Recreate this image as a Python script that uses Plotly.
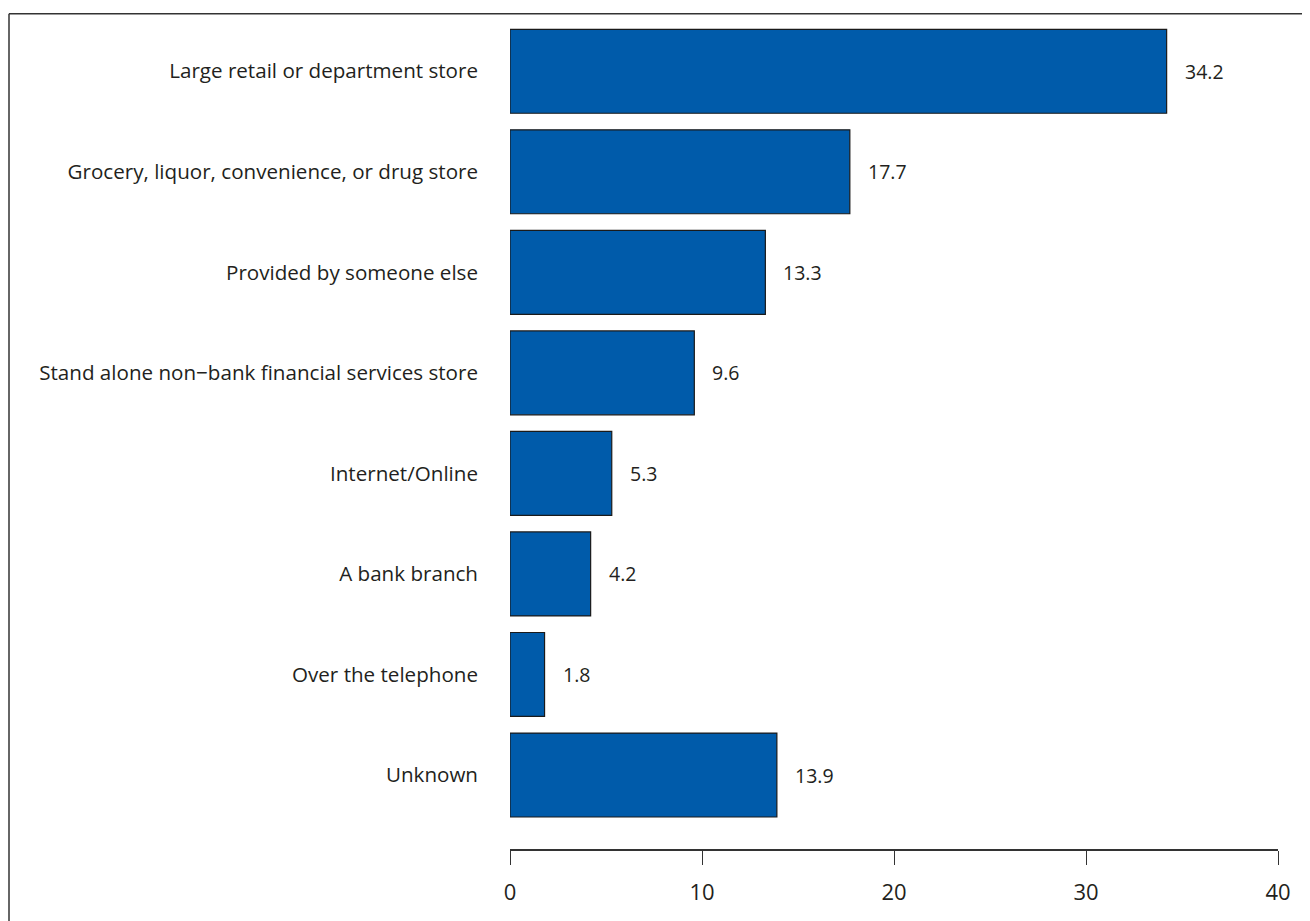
import plotly.graph_objects as go

categories = [
    "Large retail or department store",
    "Grocery, liquor, convenience, or drug store",
    "Provided by someone else",
    "Stand alone non\u2212bank financial services store",
    "Internet/Online",
    "A bank branch",
    "Over the telephone",
    "Unknown",
]
values = [34.2, 17.7, 13.3, 9.6, 5.3, 4.2, 1.8, 13.9]
value_labels = ["34.2", "17.7", "13.3", "9.6", "5.3", "4.2", "1.8", "13.9"]
x_ticks = [0, 10, 20, 30, 40]

OFF = 8  # page body margin
W, H = 1310 - OFF, 921 - OFF
L, R_px = 510 - OFF, 1278 - OFF
T_px, B_px = 21.25 - OFF, 849 - OFF
FONT = "Open Sans"
TXT = "#231f20"

fig = go.Figure()
fig.add_trace(go.Bar(
    y=categories, x=values, orientation="h",
    marker=dict(color="#005baa", line=dict(color="#1a1a1a", width=1.2)),
    width=0.835, hoverinfo="x+y",
))

for c, v, t in zip(categories, values, value_labels):
    fig.add_annotation(x=v, y=c, text=t, showarrow=False, xanchor="left",
                       xshift=16, font=dict(family=FONT, size=19.5, color=TXT))

def px2x(p):
    return (p - OFF - L) / (R_px - L)

def py2y(q):
    return (B_px - (q - OFF)) / (B_px - T_px)

fig.add_shape(type="line", xref="paper", yref="paper",
              x0=px2x(9), x1=px2x(1320), y0=py2y(14), y1=py2y(14),
              line=dict(color="#333333", width=1.5))
fig.add_shape(type="line", xref="paper", yref="paper",
              x0=px2x(9), x1=px2x(9), y0=py2y(14), y1=py2y(930),
              line=dict(color="#333333", width=1.5))

fig.update_layout(
    width=W, height=H,
    margin=dict(l=L, r=W - R_px, t=T_px, b=H - B_px, pad=0),
    plot_bgcolor="white", paper_bgcolor="white",
    showlegend=False,
    xaxis=dict(range=[0, 40], tickvals=x_ticks, showgrid=False, zeroline=False,
               showline=True, linecolor="#333333", linewidth=1.5,
               ticks="outside", ticklen=14, tickwidth=1.3, tickcolor="#333333",
               ticklabelstandoff=9,
               tickfont=dict(family=FONT, size=22, color=TXT)),
    yaxis=dict(categoryorder="array", categoryarray=categories,
               range=[7.736, -0.5], showgrid=False, zeroline=False,
               showline=False, ticks="", ticklabelstandoff=31,
               tickfont=dict(family=FONT, size=20.6, color=TXT)),
)

fig.write_html("out.html")
